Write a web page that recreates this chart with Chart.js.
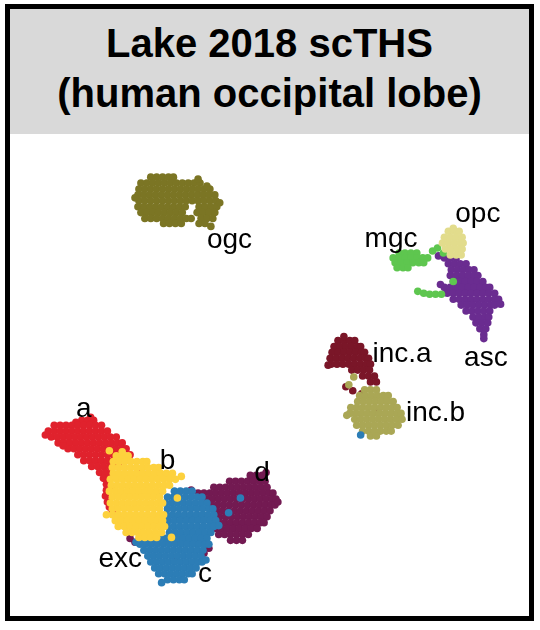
<!DOCTYPE html>
<html>
<head>
<meta charset="utf-8">
<script src="https://cdn.jsdelivr.net/npm/chart.js@4.4.1/dist/chart.umd.min.js"></script>
<style>
  html, body { margin: 0; padding: 0; background: #ffffff; }
  body { width: 540px; height: 630px; position: relative; overflow: hidden; font-family: "Liberation Sans", Arial, sans-serif; }
  #frame { position: absolute; left: 5px; top: 4px; width: 529px; height: 617px; box-sizing: border-box; border: 5px solid #000; background: #fff; }
  #header { position: absolute; left: 10px; top: 9px; width: 519px; height: 125px; background: #d9d9d9; }
  .tline { position: absolute; left: 10px; width: 519px; text-align: center; font-weight: bold; font-size: 40px; line-height: 50px; color: #000; white-space: nowrap; }
  #plot { position: absolute; left: 10px; top: 134px; }
</style>
</head>
<body>
<div id="frame"></div>
<div id="header"></div>
<div class="tline" style="top:18px;">Lake 2018 scTHS</div>
<div class="tline" style="top:68px;">(human occipital lobe)</div>
<canvas id="plot" width="519" height="482"></canvas>
<script>
// ---- cluster point coordinates (UMAP embedding) ----
const clusterA = [
 [79,421],[85,421],[91,421],[88,418],[73,423],
 [51,426],[57,426],[63,426],[69,426],[75,426],[81,426],[87,426],[93,426],[99,426],
 [45,432],[51,432],[57,432],[63,432],[69,432],[75,432],[81,432],[87,432],[93,432],[99,432],[105,432],
 [48,438],[54,438],[60,438],[66,438],[72,438],[78,438],[84,438],[90,438],[96,438],[102,438],[108,438],[114,438],
 [55,444],[61,444],[67,444],[73,444],[79,444],[85,444],[91,444],[97,444],[103,444],[109,444],[115,444],[120,444],
 [65,450],[71,450],[77,450],[83,450],[89,450],[95,450],[101,450],[107,450],[113,450],[119,450],[124,450],
 [75,456],[81,456],[87,456],[93,456],[99,456],[105,456],[111,456],[116,456],
 [81,462],[87,462],[93,462],[99,462],[105,462],[111,462],
 [89,468],[95,468],[101,468],[107,468],[111,468],
 [97,474],[103,474],[109,474],
 [101,480],[107,480],[104,486],[104,492],[103,498],[105,504],[107,509],
 [116,466],[112,490],[120,520],[140,470],[42,436],[60,447],[128,456],[127,461],[110,513]
];
const clusterB = [
 [114,457],[120,457],[126,457],
 [111,463],[117,463],[123,463],[129,463],[135,463],[141,463],[145,463],
 [110,469],[116,469],[122,469],[128,469],[134,469],[140,469],[146,469],[152,469],[157,469],
 [111,475],[117,475],[123,475],[129,475],[135,475],[141,475],[147,475],[153,475],[159,475],[165,475],[171,475],
 [108,481],[114,481],[120,481],[126,481],[132,481],[138,481],[144,481],[150,481],[156,481],[162,481],[168,481],[174,481],
 [109,487],[115,487],[121,487],[127,487],[133,487],[139,487],[145,487],[151,487],[157,487],[163,487],[168,487],
 [107,493],[113,493],[119,493],[125,493],[131,493],[137,493],[143,493],[149,493],[155,493],[161,493],
 [110,499],[116,499],[122,499],[128,499],[134,499],[140,499],[146,499],[152,499],[158,499],
 [108,505],[114,505],[120,505],[126,505],[132,505],[138,505],[144,505],[150,505],[156,505],[161,505],
 [110,511],[116,511],[122,511],[128,511],[134,511],[140,511],[146,511],[152,511],[158,511],
 [110,517],[116,517],[122,517],[128,517],[134,517],[140,517],[146,517],[152,517],[158,517],[162,517],
 [113,523],[119,523],[125,523],[131,523],[137,523],[143,523],[149,523],[155,523],[161,523],
 [116,529],[122,529],[128,529],[134,529],[140,529],[146,529],[152,529],[158,529],[163,529],
 [124,535],[130,535],[136,535],[142,535],[148,535],[154,535],[160,535],
 [137,540],[143,540],[149,540],[155,540],
 [180,478],[176,500],[170,540],[107,452],[120,453],[104,517]
];
const clusterC = [
 [173,493],[179,493],[185,493],[191,493],
 [166,499],[172,499],[178,499],[184,499],[190,499],[196,499],[201,499],
 [164,505],[170,505],[176,505],[182,505],[188,505],[194,505],[200,505],[206,505],
 [166,511],[172,511],[178,511],[184,511],[190,511],[196,511],[202,511],[208,511],[212,511],
 [165,517],[171,517],[177,517],[183,517],[189,517],[195,517],[201,517],[207,517],[213,517],
 [167,523],[173,523],[179,523],[185,523],[191,523],[197,523],[203,523],[209,523],[215,523],
 [166,529],[172,529],[178,529],[184,529],[190,529],[196,529],[202,529],[208,529],[213,529],
 [168,535],[174,535],[180,535],[186,535],[192,535],[198,535],[204,535],[210,535],
 [140,541],[146,541],[152,541],[158,541],[164,541],[170,541],[176,541],[182,541],[188,541],[194,541],[200,541],[206,541],
 [138,547],[144,547],[150,547],[156,547],[162,547],[168,547],[174,547],[180,547],[186,547],[192,547],[198,547],[204,547],[208,547],
 [142,553],[148,553],[154,553],[160,553],[166,553],[172,553],[178,553],[184,553],[190,553],[196,553],[202,553],
 [146,559],[152,559],[158,559],[164,559],[170,559],[176,559],[182,559],[188,559],[194,559],[200,559],
 [149,565],[155,565],[161,565],[167,565],[173,565],[179,565],[185,565],[191,565],[197,565],[201,565],
 [153,571],[159,571],[165,571],[171,571],[177,571],[183,571],[189,571],[195,571],
 [157,577],[163,577],[169,577],[175,577],[181,577],[187,577],[191,577],
 [166,583],[172,583],[178,583],[183,583],
 [150,525],[228,515],[240,500],[362,436],[156,497],[218,528],[160,586],[205,563],[134,545]
];
const clusterD = [
 [250,477],[256,477],[262,477],
 [229,483],[235,483],[241,483],[247,483],[253,483],[259,483],[265,483],
 [213,489],[219,489],[225,489],[231,489],[237,489],[243,489],[249,489],[255,489],[261,489],[267,489],
 [197,495],[203,495],[209,495],[215,495],[221,495],[227,495],[233,495],[239,495],[245,495],[251,495],[257,495],[263,495],[269,495],[273,495],
 [206,501],[212,501],[218,501],[224,501],[230,501],[236,501],[242,501],[248,501],[254,501],[260,501],[266,501],[272,501],[276,501],
 [211,507],[217,507],[223,507],[229,507],[235,507],[241,507],[247,507],[253,507],[259,507],[265,507],[271,507],[275,507],
 [216,513],[222,513],[228,513],[234,513],[240,513],[246,513],[252,513],[258,513],[264,513],[270,513],
 [219,519],[225,519],[231,519],[237,519],[243,519],[249,519],[255,519],[261,519],[267,519],
 [218,525],[224,525],[230,525],[236,525],[242,525],[248,525],[254,525],[260,525],[264,525],
 [215,531],[221,531],[227,531],[233,531],[239,531],[245,531],[251,531],[257,531],
 [218,537],[224,537],[230,537],[236,537],[242,537],[248,537],
 [230,543],[236,543],[242,543],
 [205,545],[208,551],[203,556],[128,541],[133,545],[138,541],[185,520],[175,560],[190,492],[278,504],[266,474]
];
const clusterOgc = [
 [149,174],[155,174],[161,174],[167,174],[172,174],
 [139,180],[145,180],[151,180],[157,180],[163,180],[169,180],[175,180],[181,180],[187,180],[193,180],[199,180],
 [137,186],[143,186],[149,186],[155,186],[161,186],[167,186],[173,186],[179,186],[185,186],[191,186],[197,186],[203,186],[209,186],
 [136,192],[142,192],[148,192],[154,192],[160,192],[166,192],[172,192],[178,192],[184,192],[190,192],[196,192],[202,192],[208,192],[214,192],
 [137,198],[143,198],[149,198],[155,198],[161,198],[167,198],[173,198],[179,198],[185,198],[191,198],[197,198],[203,198],[209,198],[215,198],
 [136,204],[142,204],[148,204],[154,204],[160,204],[166,204],[172,204],[178,204],[184,204],[198,204],[204,204],[210,204],[216,204],
 [139,210],[145,210],[151,210],[157,210],[163,210],[169,210],[175,210],[181,210],[196,210],[202,210],[208,210],[214,210],
 [143,216],[149,216],[155,216],[161,216],[167,216],[173,216],[179,216],[185,216],[190,216],[200,216],[206,216],[212,216],
 [162,221],[168,221],[174,221],[180,221],[198,221],[204,221],
 [206,183],[197,176],[219,200],[133,195],[210,224]
];
const clusterOpc = [
 [451,229],[457,229],[462,229],
 [447,235],[453,235],[459,235],[465,235],
 [445,241],[451,241],[457,241],[463,241],[466,241],
 [448,247],[454,247],[460,247],[465,247],
 [453,253],[459,253],[464,253],[456,226]
];
const clusterMgc = [
 [401,251],[407,251],[413,251],[419,251],
 [395,256],[401,256],[407,256],[413,256],[419,256],[425,256],[430,256],
 [397,261],[403,261],[409,261],[415,261],[421,261],[426,261],
 [399,266],[405,266],[410,266],
 [435,249],[440,246],[446,251],
 [420,290],[426,292],[432,293],[438,293],[444,293],[456,280]
];
const clusterAsc = [
 [447,256],[453,256],[459,256],
 [451,262],[457,262],[463,262],[469,262],
 [454,268],[460,268],[466,268],[472,268],[477,268],
 [453,274],[459,274],[465,274],[471,274],[477,274],[481,274],
 [456,280],[462,280],[468,280],[474,280],[480,280],[486,280],
 [447,286],[453,286],[459,286],[465,286],[471,286],[477,286],[483,286],[489,286],[493,286],
 [450,292],[456,292],[462,292],[468,292],[474,292],[480,292],[486,292],[492,292],[498,292],
 [456,298],[462,298],[468,298],[474,298],[480,298],[486,298],[492,298],[498,298],[502,298],
 [464,304],[470,304],[476,304],[482,304],[488,304],[494,304],[498,304],
 [469,310],[475,310],[481,310],[487,310],[493,310],
 [476,316],[482,316],[488,316],[492,316],
 [479,322],[485,322],[491,322],
 [483,328],[489,328],[487,334],[487,338],
 [443,283],[441,254],[504,303]
];
const clusterIncA = [
 [339,340],[345,340],[351,340],[356,340],
 [335,346],[341,346],[347,346],[353,346],[359,346],[362,346],
 [333,352],[339,352],[345,352],[351,352],[357,352],[363,352],[366,352],
 [331,358],[337,358],[343,358],[349,358],[355,358],[361,358],[367,358],[370,358],
 [332,364],[338,364],[344,364],[350,364],[356,364],[362,364],[368,364],[372,364],
 [353,370],[359,370],[365,370],[371,370],
 [364,376],[370,376],[376,376],
 [372,382],[378,382],
 [347,387],[354,391],[363,394],[405,258],[405,264],[380,412],[329,365],[345,336]
];
const clusterIncB = [
 [366,390],[372,390],[378,390],
 [361,396],[367,396],[373,396],[379,396],[385,396],[390,396],
 [359,402],[365,402],[371,402],[377,402],[383,402],[389,402],[395,402],
 [352,408],[358,408],[364,408],[370,408],[376,408],[382,408],[388,408],[394,408],[399,408],
 [351,414],[357,414],[363,414],[369,414],[375,414],[381,414],[387,414],[393,414],[399,414],[403,414],
 [356,420],[362,420],[368,420],[374,420],[380,420],[386,420],[392,420],[398,420],[404,420],
 [358,426],[364,426],[370,426],[376,426],[382,426],[388,426],[394,426],[400,426],
 [364,432],[370,432],[376,432],[382,432],[388,432],[393,432],
 [372,437],[378,437],
 [350,385],[355,377],[348,416]
];
// cluster label names and their anchor (left, baseline) in data units
const labelNames = ["a","b","d","exc","c","ogc","mgc","opc","asc","inc.a","inc.b"];
const labelX = [73,158,254,96,197,206,366,458,467,374,408];
const labelY = [418,471,483,570,585,246,245,220,366,362,422];

const toPts = arr => arr.map(p => ({x: p[0], y: p[1]}));

const series = [
  {name: "exc.b", pts: clusterB, color: "#fdd13d"},
  {name: "exc.a", pts: clusterA, color: "#e0222d"},
  {name: "exc.c", pts: clusterC, color: "#2c7db6"},
  {name: "exc.d", pts: clusterD, color: "#731a52"},
  {name: "ogc", pts: clusterOgc, color: "#7b7524"},
  {name: "opc", pts: clusterOpc, color: "#e2dc8c"},
  {name: "mgc", pts: clusterMgc, color: "#5ec64f"},
  {name: "asc", pts: clusterAsc, color: "#6a2c90"},
  {name: "inc.b", pts: clusterIncB, color: "#aaa755"},
  {name: "inc.a", pts: clusterIncA, color: "#7a1628"}
];

const labelPlugin = {
  id: "clusterLabels",
  afterDatasetsDraw(chart) {
    const ctx = chart.ctx;
    const xs = chart.scales.x, ys = chart.scales.y;
    ctx.save();
    ctx.font = '28px "Liberation Sans", Arial, sans-serif';
    ctx.fillStyle = "#000";
    ctx.textAlign = "left";
    ctx.textBaseline = "alphabetic";
    labelNames.forEach((t, i) => {
      ctx.fillText(t, xs.getPixelForValue(labelX[i]), ys.getPixelForValue(labelY[i]));
    });
    ctx.restore();
  }
};

new Chart(document.getElementById("plot"), {
  type: "scatter",
  data: {
    datasets: series.map(s => ({
      label: s.name,
      data: toPts(s.pts),
      backgroundColor: s.color,
      borderWidth: 0,
      pointRadius: 3.8,
      pointHoverRadius: 3.8
    }))
  },
  options: {
    responsive: false,
    animation: false,
    layout: { padding: 0 },
    plugins: { legend: { display: false }, tooltip: { enabled: false }, title: { display: false } },
    scales: {
      x: { type: "linear", min: 10, max: 529, display: false },
      y: { type: "linear", min: 134, max: 616, reverse: true, display: false }
    }
  },
  plugins: [labelPlugin]
});
</script>
</body>
</html>
